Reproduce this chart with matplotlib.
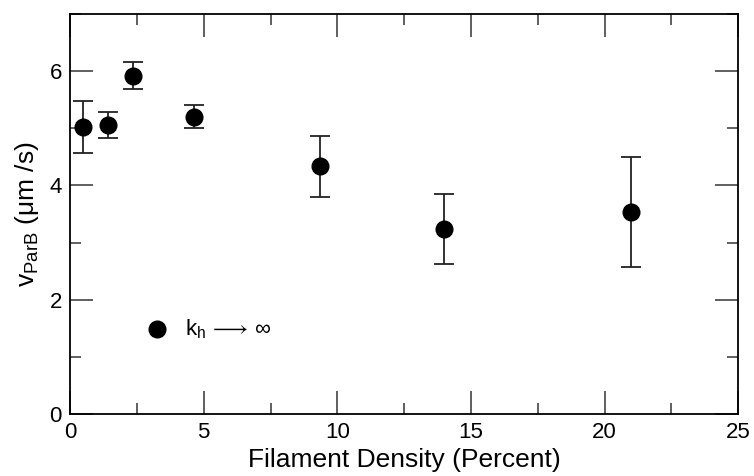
import matplotlib
matplotlib.use("Agg")
import matplotlib.pyplot as plt
from matplotlib.ticker import MultipleLocator

plt.rcParams['font.family'] = ['Liberation Sans', 'DejaVu Sans']
plt.rcParams['mathtext.fontset'] = 'custom'
plt.rcParams['mathtext.rm'] = 'Liberation Sans'
plt.rcParams['mathtext.it'] = 'Liberation Sans'
plt.rcParams['mathtext.fallback'] = 'stixsans'

# ParB velocity vs filament density
density = [0.5, 1.4, 2.35, 4.65, 9.35, 14.0, 21.0]
velocity = [5.02, 5.05, 5.91, 5.20, 4.34, 3.24, 3.53]
err_low = [0.45, 0.22, 0.23, 0.19, 0.54, 0.61, 0.96]
err_high = [0.45, 0.23, 0.24, 0.20, 0.53, 0.61, 0.97]

fig = plt.figure(figsize=(7.54, 4.76), dpi=100)
ax = fig.add_axes([0.093, 0.130, 0.886, 0.841])

ax.errorbar(density, velocity, yerr=[err_low, err_high], fmt='o',
            color='black', markersize=12, ecolor='#222222', elinewidth=1.3,
            capsize=7.5, capthick=1.3, zorder=3)

# legend entry drawn by hand
ax.plot([3.25], [1.48], 'o', color='black', markersize=12)
ax.text(4.3, 1.48, r'k$_\mathregular{h}\,\longrightarrow\,\infty$', fontsize=16,
        va='center', ha='left')

ax.set_xlim(0, 25)
ax.set_ylim(0, 7)
ax.xaxis.set_major_locator(MultipleLocator(5))
ax.xaxis.set_minor_locator(MultipleLocator(2.5))
ax.yaxis.set_major_locator(MultipleLocator(2))
ax.yaxis.set_minor_locator(MultipleLocator(1))
ax.tick_params(which='both', direction='in', top=True, right=True,
               color='#444444', width=1.2, labelsize=16, pad=6)
ax.tick_params(which='major', length=16.5)
ax.tick_params(which='minor', length=8)
for sp in ax.spines.values():
    sp.set_linewidth(1.3)

ax.set_xlabel('Filament Density (Percent)', fontsize=19, labelpad=3)
ax.set_ylabel('v$_\\mathregular{ParB}$ (\u03bcm /s)', fontsize=19, labelpad=6)

fig.savefig('out.png', dpi=100)
